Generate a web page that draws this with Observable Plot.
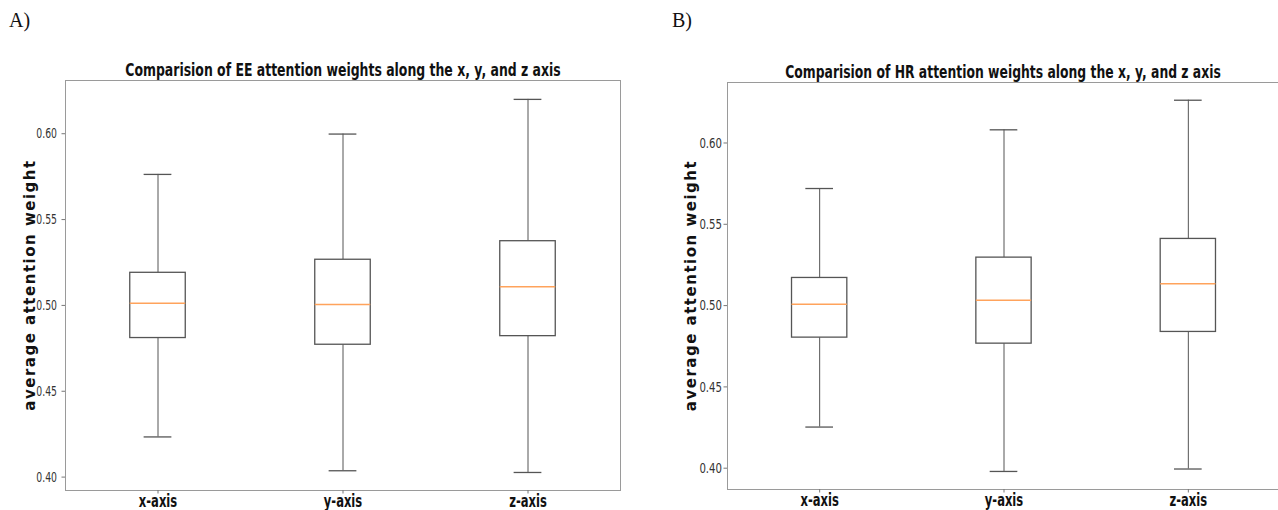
<!DOCTYPE html>
<html>
<head>
<meta charset="utf-8">
<script src="https://cdn.jsdelivr.net/npm/d3@7"></script>
<script src="https://cdn.jsdelivr.net/npm/@observablehq/plot@0.6"></script>
<style>
  html, body { margin: 0; padding: 0; background: #fff; overflow: hidden; }
  #wrap { position: relative; width: 1278px; height: 510px; overflow: hidden; }
  .panel { position: absolute; top: 0; }
  .plabel { position: absolute; font-family: "Liberation Serif", "DejaVu Serif", serif; font-size: 20px; color: #111; }
</style>
</head>
<body>
<div id="wrap"></div>
<script>
// ---- data ----
const categories = ["x-axis", "y-axis", "z-axis"];
const positions = [1, 2, 3];
const yTicks = [0.40, 0.45, 0.50, 0.55, 0.60];

const eeTitle = "Comparision of EE attention weights along the x, y, and z axis";
const eeLow    = [0.4234, 0.4037, 0.4027];
const eeQ1     = [0.4810, 0.4771, 0.4821];
const eeMedian = [0.5013, 0.5006, 0.5109];
const eeQ3     = [0.5190, 0.5266, 0.5374];
const eeHigh   = [0.5763, 0.5998, 0.6200];

const hrTitle = "Comparision of HR attention weights along the x, y, and z axis";
const hrLow    = [0.4253, 0.3980, 0.3995];
const hrQ1     = [0.4803, 0.4766, 0.4838];
const hrMedian = [0.5008, 0.5033, 0.5134];
const hrQ3     = [0.5170, 0.5295, 0.5410];
const hrHigh   = [0.5720, 0.6081, 0.6263];

const yLabel = "average attention weight";

// ---- chart ----
const sans = '"DejaVu Sans", Verdana, sans-serif';
const boxColor = "#555";
const medianColor = "#ffa35c";
const halfBox = 0.15, halfCap = 0.075;

function rowsOf(low, q1, med, q3, high) {
  return categories.map((c, i) => ({pos: positions[i], cat: c, low: low[i], q1: q1[i], med: med[i], q3: q3[i], high: high[i]}));
}

function condense(svg, selector, factor) {
  svg.querySelectorAll(selector).forEach(t => {
    const w = t.getComputedTextLength();
    t.setAttribute("textLength", (w * factor).toFixed(1));
    t.setAttribute("lengthAdjust", "spacingAndGlyphs");
  });
}

function panel({rows, title, yDomain, left, width, marginLeft, marginTop, marginBottom, marginRight, titleX, titleY, yPad, yFactor, labelDx}) {
  const svg = Plot.plot({
    width, height: 510, marginLeft, marginTop, marginBottom, marginRight,
    style: {background: "transparent", fontFamily: sans, overflow: "visible"},
    x: {domain: [0.5, 3.5]},
    y: {domain: yDomain},
    marks: [
      Plot.frame({stroke: "#9a9a9a", strokeWidth: 1}),
      Plot.axisY({ticks: yTicks, tickFormat: d3.format(".2f"), tickSize: 3.5, tickPadding: yPad,
                  fontSize: 14.5, fill: "#333", stroke: "#777", label: null}),
      Plot.axisX({ticks: positions, tickFormat: d => categories[d - 1], tickSize: 3.5, tickPadding: 1,
                  fontSize: 17, fontWeight: "bold", fill: "#111", stroke: "#777", label: null}),
      Plot.ruleX(rows, {x: "pos", y1: "low", y2: "q1", stroke: boxColor, strokeWidth: 1}),
      Plot.ruleX(rows, {x: "pos", y1: "q3", y2: "high", stroke: boxColor, strokeWidth: 1}),
      Plot.ruleY(rows, {y: "low", x1: d => d.pos - halfCap, x2: d => d.pos + halfCap, stroke: boxColor, strokeWidth: 1.3}),
      Plot.ruleY(rows, {y: "high", x1: d => d.pos - halfCap, x2: d => d.pos + halfCap, stroke: boxColor, strokeWidth: 1.3}),
      Plot.rect(rows, {x1: d => d.pos - halfBox, x2: d => d.pos + halfBox, y1: "q1", y2: "q3", fill: "white", stroke: boxColor, strokeWidth: 1.3}),
      Plot.ruleY(rows, {y: "med", x1: d => d.pos - halfBox, x2: d => d.pos + halfBox, stroke: medianColor, strokeWidth: 1.5})
    ]
  });
  svg.classList.add("panel");
  svg.style.left = left + "px";
  const s = d3.select(svg);
  s.append("text").attr("class", "ttl").attr("text-anchor", "middle")
    .attr("font-family", sans).attr("font-weight", "bold").attr("font-size", 18).attr("fill", "#111")
    .attr("data-x", titleX).attr("data-y", titleY)
    .text(title);
  const cy = marginTop + (510 - marginTop - marginBottom) / 2;
  s.append("text").attr("transform", `translate(${marginLeft - labelDx},${cy}) rotate(-90)`)
    .attr("text-anchor", "middle").attr("dominant-baseline", "central")
    .attr("font-family", sans).attr("font-weight", "bold")
    .attr("font-size", 15).attr("letter-spacing", "1.5px").attr("fill", "#111")
    .text(yLabel);
  svg._yFactor = yFactor;
  return svg;
}

const wrap = document.getElementById("wrap");
const pA = panel({rows: rowsOf(eeLow, eeQ1, eeMedian, eeQ3, eeHigh), title: eeTitle,
  yDomain: [0.3922, 0.6310], left: 0, width: 640, marginLeft: 65, marginTop: 80, marginBottom: 20, marginRight: 20,
  titleX: 343, titleY: 76, yPad: 5, yFactor: 0.64, labelDx: 35});
const pB = panel({rows: rowsOf(hrLow, hrQ1, hrMedian, hrQ3, hrHigh), title: hrTitle,
  yDomain: [0.3869, 0.6372], left: 640, width: 638, marginLeft: 87, marginTop: 82, marginBottom: 21, marginRight: -2,
  titleX: 363, titleY: 78, yPad: 2, yFactor: 0.7, labelDx: 36});
wrap.appendChild(pA);
wrap.appendChild(pB);
for (const p of [pA, pB]) {
  condense(p, 'g[aria-label="y-axis tick label"] text', p._yFactor);
  condense(p, 'g[aria-label="x-axis tick label"] text', 0.68);
  p.querySelectorAll("text.ttl").forEach(t => {
    const k = 436 / t.getComputedTextLength();
    t.setAttribute("transform", `translate(${t.getAttribute("data-x")},${t.getAttribute("data-y")}) scale(${k.toFixed(4)},1)`);
  });
}

const la = document.createElement("div"); la.className = "plabel"; la.textContent = "A)";
la.style.left = "9px"; la.style.top = "9px"; wrap.appendChild(la);
const lb = document.createElement("div"); lb.className = "plabel"; lb.textContent = "B)";
lb.style.left = "672px"; lb.style.top = "9px"; wrap.appendChild(lb);
</script>
</body>
</html>
